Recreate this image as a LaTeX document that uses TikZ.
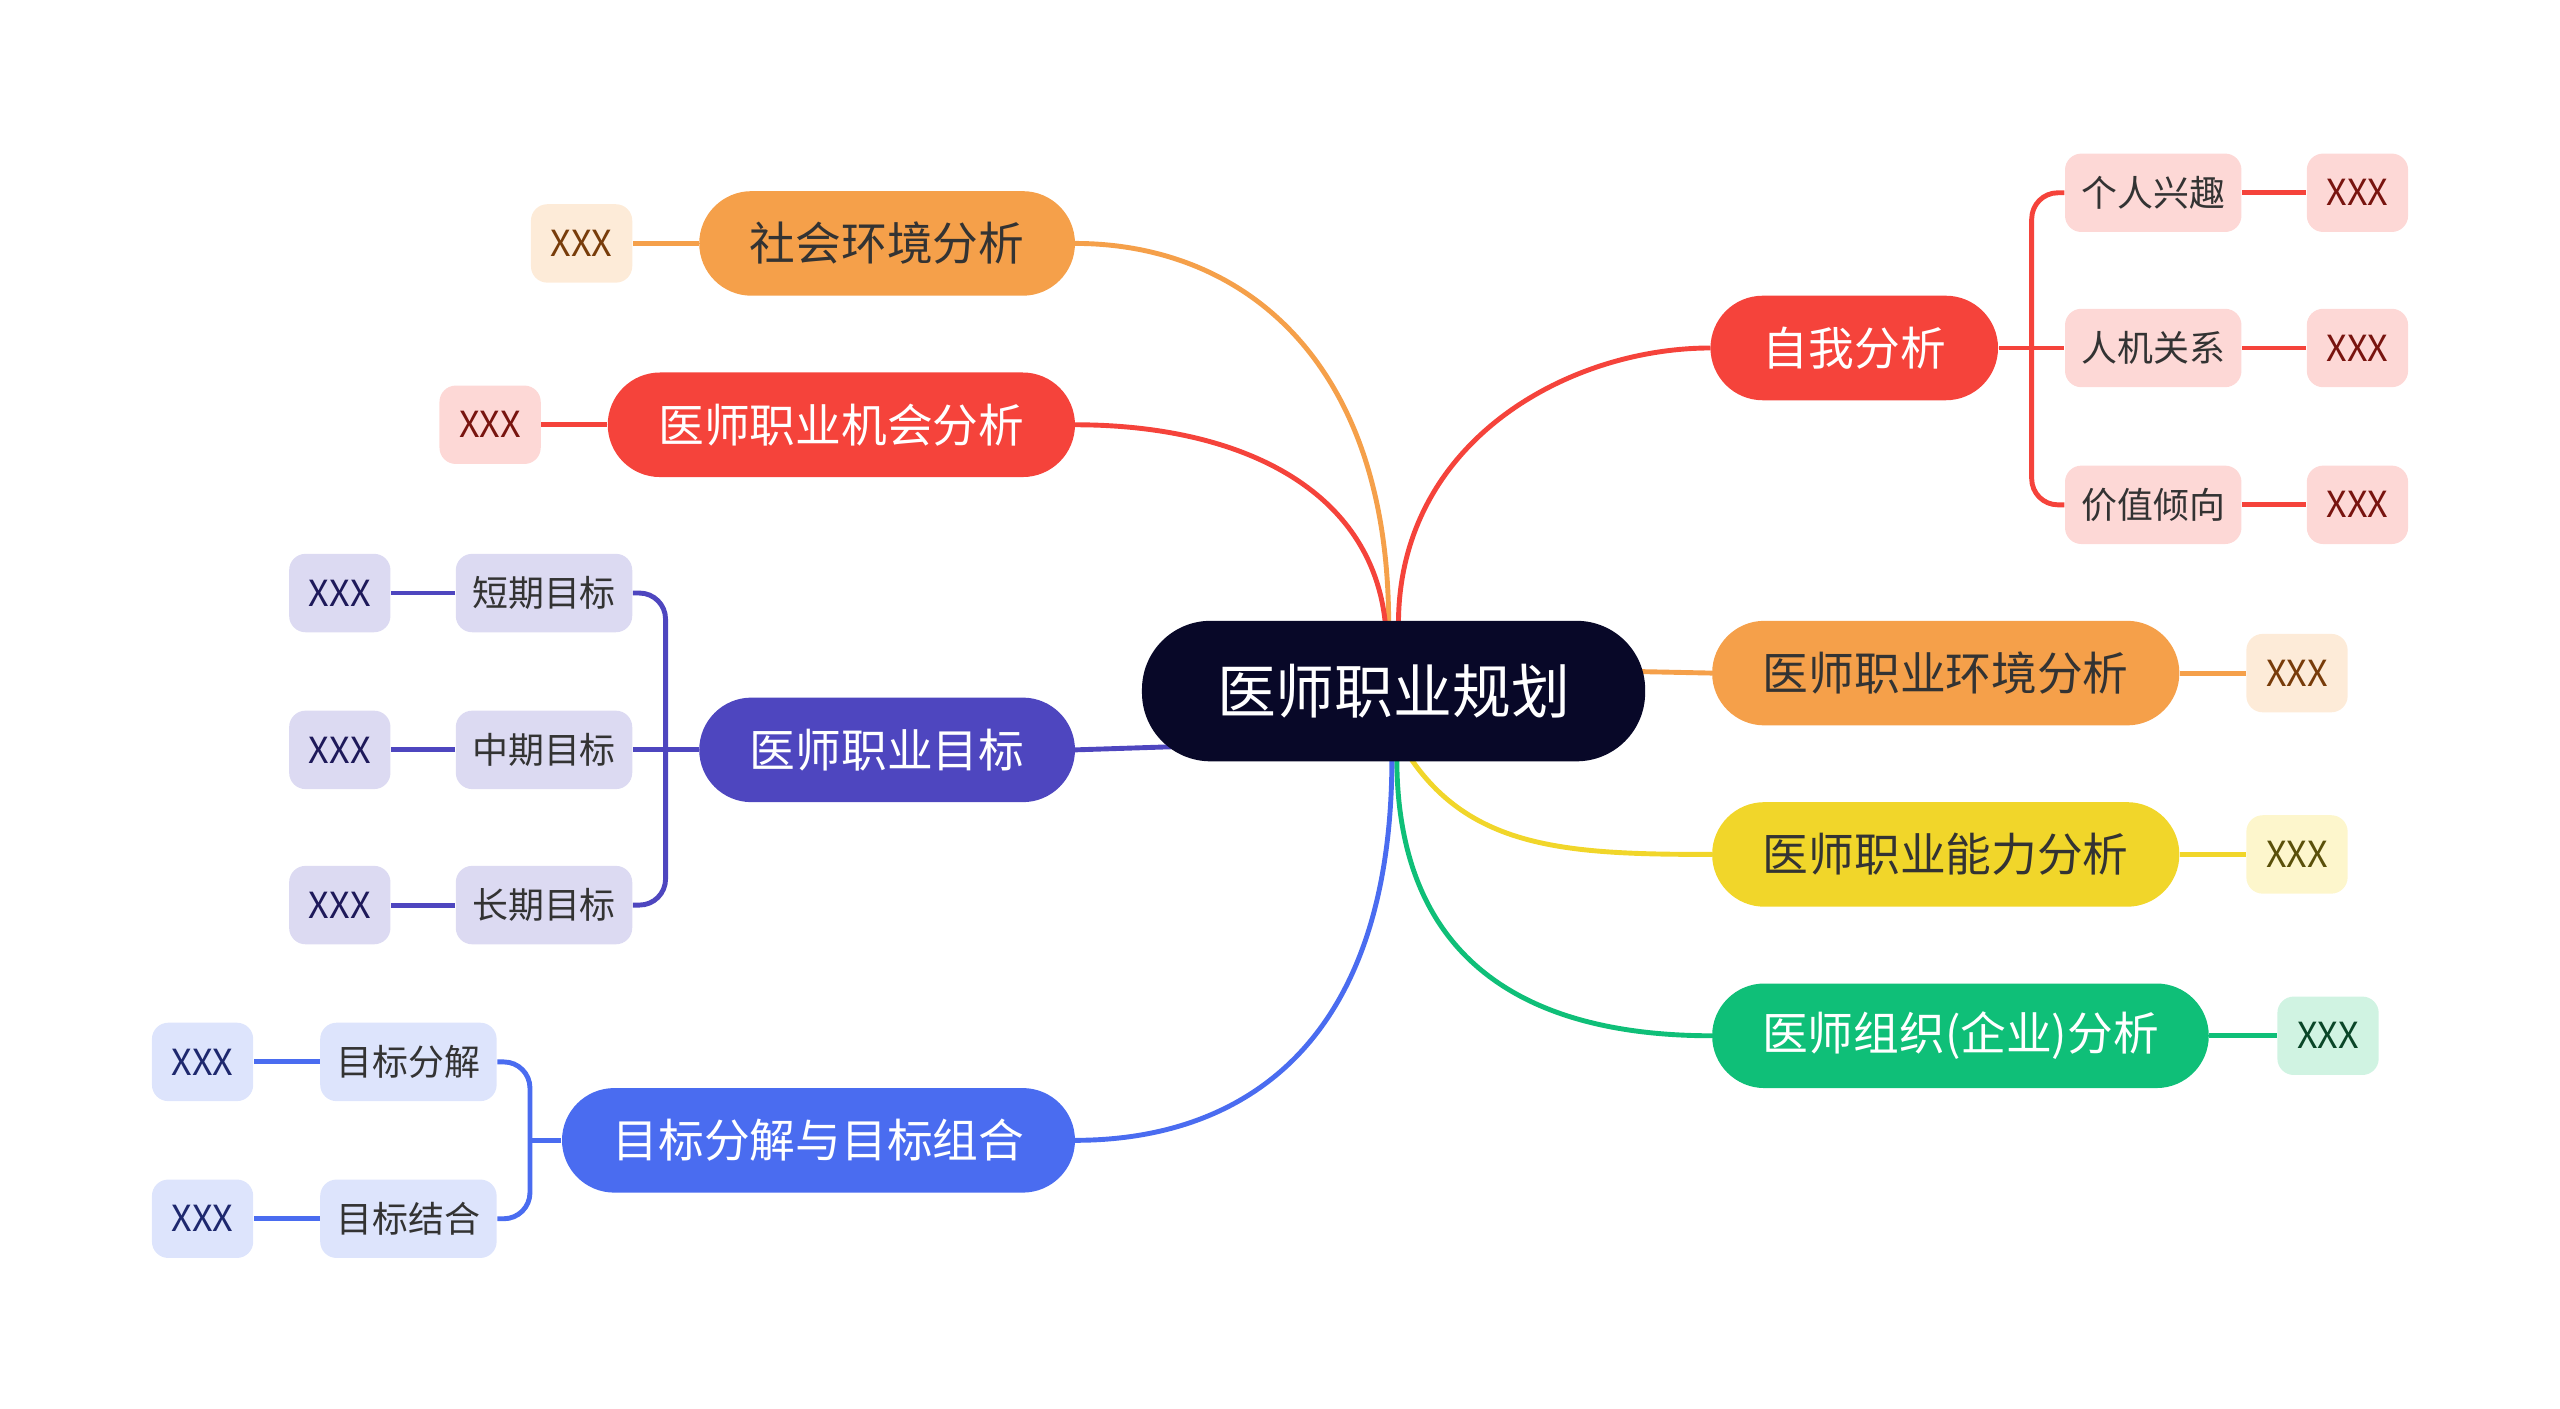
\documentclass[tikz,border=0pt]{standalone}
\usepackage{fontspec}
\setmainfont{Noto Sans CJK SC}
\begin{document}
\begin{tikzpicture}[x=0.5pt,y=-0.5pt,
 base/.style={inner sep=0pt,align=center},
 main/.style={base,minimum height=32pt,rounded corners=16pt,font=\fontsize{14}{16}\selectfont},
 sub/.style={base,minimum height=24pt,minimum width=54pt,rounded corners=5pt,font=\fontsize{11}{13}\selectfont},
 leaf/.style={base,minimum height=24pt,minimum width=31pt,rounded corners=5pt,font=\fontsize{11}{13}\selectfont},
 ln/.style={line width=1.5pt}]
\definecolor{cO}{HTML}{F5A04A}\definecolor{cOl}{HTML}{FDEBD8}
\definecolor{cR}{HTML}{F5433B}\definecolor{cRl}{HTML}{FDD8D6}
\definecolor{cP}{HTML}{4E46BF}\definecolor{cPl}{HTML}{DCDAF2}
\definecolor{cB}{HTML}{4A6CF0}\definecolor{cBl}{HTML}{DDE4FC}
\definecolor{cY}{HTML}{F1D62A}\definecolor{cYl}{HTML}{FDF6CC}
\definecolor{cG}{HTML}{0FBF78}\definecolor{cGl}{HTML}{D0F3E2}
\definecolor{tx}{HTML}{333333}
\useasboundingbox (0,0) rectangle (1567,862.4);
% root connectors (drawn first)
\draw[ln,cO] (850,382) .. controls (850,220) and (760,149) .. (658,149);
\draw[ln,cR] (848,382) .. controls (840,300) and (760,260) .. (658,260);
\draw[ln,cR] (856,382) .. controls (856,270) and (960,213) .. (1047,213);
\draw[ln,cO] (1000,411) -- (1048,412);
\draw[ln,cY] (862,462) .. controls (900,520) and (960,523) .. (1048,523);
\draw[ln,cG] (855,464) .. controls (855,600) and (950,634) .. (1048,634);
\draw[ln,cP] (720,457) -- (658,459);
\draw[ln,cB] (852,464) .. controls (852,640) and (760,698) .. (658,698);
\node[base,minimum width=154pt,minimum height=43pt,rounded corners=21pt,fill={rgb,255:red,8;green,8;blue,40},text=white,font=\fontsize{18}{20}\selectfont] (root) at (853,423) {医师职业规划};
% left
\node[main,minimum width=115pt,fill=cO,text=tx] (a) at (543,149) {社会环境分析};
\node[leaf,fill=cOl,text={rgb,255:red,120;green,60;blue,10}] (ax) at (356,149) {XXX};
\node[main,minimum width=143pt,fill=cR,text=white] (b) at (515,260) {医师职业机会分析};
\node[leaf,fill=cRl,text={rgb,255:red,120;green,20;blue,15}] (bx) at (300,260) {XXX};
\node[main,minimum width=115pt,fill=cP,text=white] (c) at (543,459) {医师职业目标};
\foreach \n/\t/\y in {1/短期目标/363,2/中期目标/459,3/长期目标/554}{
 \node[sub,fill=cPl,text=tx] (c\n) at (333,\y) {\t};
 \node[leaf,fill=cPl,text={rgb,255:red,30;green,25;blue,90}] (c\n x) at (208,\y) {XXX};
 \draw[ln,cP] (c\n) -- (c\n x);}
\draw[ln,cP] (c) -- (c2);
\draw[ln,cP,rounded corners=8pt] (c1.east) -- ++(20,0) -- ++(0,191) -- (c3.east);
\node[main,minimum width=157pt,fill=cB,text=white] (d) at (501,698) {目标分解与目标组合};
\foreach \n/\t/\y in {1/目标分解/650,2/目标结合/746}{
 \node[sub,fill=cBl,text=tx] (d\n) at (250,\y) {\t};
 \node[leaf,fill=cBl,text={rgb,255:red,30;green,40;blue,110}] (d\n x) at (124,\y) {XXX};
 \draw[ln,cB] (d\n) -- (d\n x);}
\draw[ln,cB,rounded corners=8pt] (d1.east) -- ++(20,0) -- ++(0,96) -- (d2.east);
\draw[ln,cB] (d.west) -- ++(-20,0);
% right
\node[main,minimum width=88pt,fill=cR,text=white] (e) at (1135,213) {自我分析};
\foreach \n/\t/\y in {1/个人兴趣/118,2/人机关系/213,3/价值倾向/309}{
 \node[sub,fill=cRl,text=tx] (e\n) at (1318,\y) {\t};
 \node[leaf,fill=cRl,text={rgb,255:red,120;green,20;blue,15}] (e\n x) at (1443,\y) {XXX};
 \draw[ln,cR] (e\n) -- (e\n x);}
\draw[ln,cR] (e) -- (e2);
\draw[ln,cR,rounded corners=8pt] (e1.west) -- ++(-20,0) -- ++(0,191) -- (e3.west);
\node[main,minimum width=143pt,fill=cO,text=tx] (f) at (1191,412) {医师职业环境分析};
\node[leaf,fill=cOl,text={rgb,255:red,120;green,60;blue,10}] (fx) at (1406,412) {XXX};
\node[main,minimum width=143pt,fill=cY,text=tx] (g) at (1191,523) {医师职业能力分析};
\node[leaf,fill=cYl,text={rgb,255:red,90;green,80;blue,10}] (gx) at (1406,523) {XXX};
\node[main,minimum width=152pt,fill=cG,text=white] (h) at (1200,634) {医师组织(企业)分析};
\node[leaf,fill=cGl,text={rgb,255:red,10;green,70;blue,40}] (hx) at (1425,634) {XXX};
\draw[ln,cO] (f) -- (fx);
\draw[ln,cY] (g) -- (gx);
\draw[ln,cG] (h) -- (hx);
\draw[ln,cO] (a) -- (ax);
\draw[ln,cR] (b) -- (bx);
\end{tikzpicture}
\end{document}
